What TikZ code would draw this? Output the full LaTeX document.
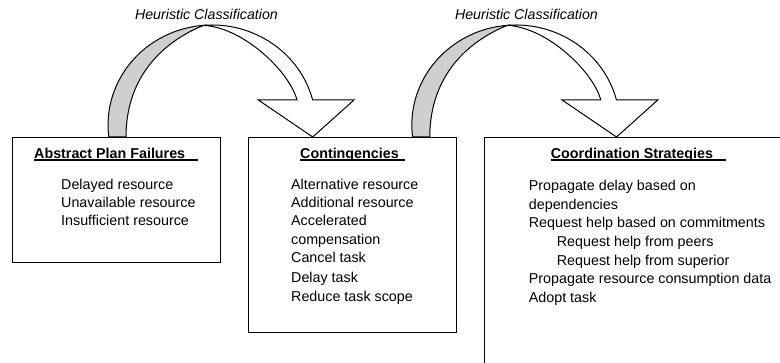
\documentclass[tikz,border=0pt]{standalone}
\usepackage{fontspec}
\setmainfont{Liberation Sans}
\tikzset{
  ribbon/.style={draw=black, line width=1pt, line join=miter},
  boxnode/.style={draw=black, line width=1pt, fill=white, anchor=north west, inner sep=0pt},
  titletext/.style={font=\fontsize{14.3}{18.4}\selectfont\bfseries, inner sep=0pt, anchor=base west},
  itemtext/.style={font=\fontsize{14.3}{18.4}\selectfont, inner sep=0pt, anchor=base west},
  itemtextb/.style={font=\fontsize{14.3}{18.55}\selectfont, inner sep=0pt, anchor=base west},
  lbltext/.style={font=\fontsize{14.2}{17}\selectfont\itshape, inner sep=0pt, anchor=base},
  uline/.style={draw=black, line width=1.4pt},
  harrow/.pic={
    % grey back of the ribbon
    \filldraw[ribbon, fill=black!19]
      (-0.7,137) arc[start angle=173.1, end angle=265.5, x radius=104, y radius=100]
      .. controls (62,38) and (16.5,70) .. (16.5,137)
      -- cycle;
    % white front of the ribbon with head
    \filldraw[ribbon, fill=white]
      (94.3,25.3) arc[start angle=265.5, end angle=345.5, x radius=104, y radius=100]
      -- (244.5,100) -- (203.2,137) -- (148.8,100) -- (187.5,100)
      .. controls (180,72) and (135,28) .. (94.3,25.3)
      -- cycle;
  }
}
\begin{document}
\begin{tikzpicture}[x=1pt, y=-1pt]
\useasboundingbox (0,0) rectangle (780,363);
\clip (0,0) rectangle (780,363);

% curved arrows
\begin{scope}[shift={(109.5,0)}]
  \pic {harrow};
\end{scope}
\begin{scope}[shift={(413.3,0)}, xscale=1.06]
  \pic {harrow};
\end{scope}

\node[lbltext] (h1) at (206.5,19.5) {Heuristic Classification};
\node[lbltext] (h2) at (526.5,19.5) {Heuristic Classification};

% boxes
\node[boxnode, minimum width=208.3pt, minimum height=124.5pt] (b1) at (12,137.5) {};
\node[boxnode, minimum width=208.6pt, minimum height=194.5pt] (b2) at (247.7,137.5) {};
\node[boxnode, minimum width=330pt, minimum height=260pt] (b3) at (483.5,137.5) {};

% titles
\node[titletext] (t1) at (34,158.5) {Abstract Plan Failures};
\draw[uline] (t1.base west) ++(0,1.6) -- ++(164,0);
\node[titletext] (t2) at (300,158.5) {Contingencies};
\draw[uline] (t2.base west) ++(0,1.6) -- ++(105,0);
\node[titletext] (t3) at (550.7,158.5) {Coordination Strategies};
\draw[uline] (t3.base west) ++(0,1.6) -- ++(175.3,0);

% contents
\node[itemtext] (c1) at (61,189.2) {\begin{tabular}[t]{@{}l@{}}Delayed resource\\Unavailable resource\\Insufficient resource\end{tabular}};
\node[itemtext] (c2) at (291,189.2) {\begin{tabular}[t]{@{}l@{}}Alternative resource\\Additional resource\\Accelerated\\compensation\\Cancel task\\[1.6pt]Delay task\\Reduce task scope\end{tabular}};
\node[itemtextb] (c3) at (528.7,190.9) {\begin{tabular}[t]{@{}l@{}}Propagate delay based on\\dependencies\\Request help based on commitments\\\hspace*{28pt}Request help from peers\\\hspace*{28pt}Request help from superior\\Propagate resource consumption data\\Adopt task\end{tabular}};
\end{tikzpicture}
\end{document}
